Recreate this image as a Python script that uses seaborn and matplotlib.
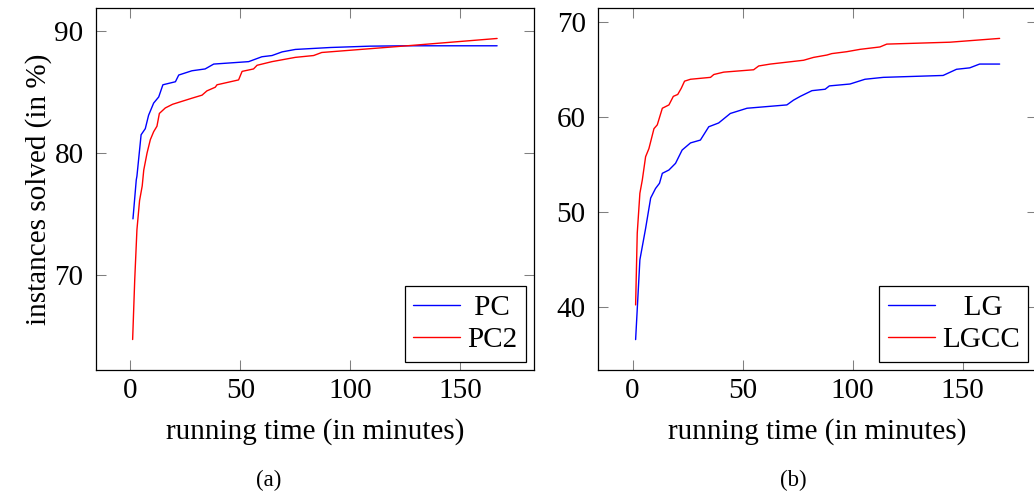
import numpy as np
import pandas as pd
import seaborn as sns
import matplotlib.pyplot as plt

# --- data -------------------------------------------------------------------
pc_time = [1.2, 2.7, 3.0, 4.9, 6.8, 8.3, 10.6, 12.9, 14.8, 20.5, 22, 28, 34, 37.9,
           53.8, 59.8, 64.4, 69, 75, 91, 109, 125.8, 166.7]
pc_solved = [74.6, 77.8, 78.1, 81.5, 82.0, 83.1, 84.1, 84.6, 85.6, 85.85, 86.4, 86.75,
             86.9, 87.3, 87.5, 87.9, 88.0, 88.3, 88.5, 88.66, 88.77, 88.8, 88.8]

pc2_time = [1.05, 2.0, 3.0, 4.2, 5.4, 6.1, 7.6, 9.1, 10.6, 12.1, 13.2, 15.9, 19.2, 28,
            32.6, 34.8, 38.6, 39.4, 49.2, 50.8, 56, 57.6, 64.4, 75, 83.3, 87, 125.8, 166.7]
pc2_solved = [64.7, 69.6, 73.7, 76.1, 77.3, 78.6, 80.0, 81.1, 81.75, 82.2, 83.25, 83.7,
              84.0, 84.5, 84.75, 85.1, 85.4, 85.6, 86.0, 86.7, 86.9, 87.2, 87.5, 87.85,
              88.0, 88.25, 88.8, 89.4]

lg_time = [1.36, 3.3, 5.9, 8.2, 10.4, 12.2, 13.5, 16.5, 19.5, 22.5, 26.3, 30.8, 34.6,
           39.1, 44.4, 52, 70.1, 73.1, 76.2, 81.5, 87.5, 89.4, 98.8, 105.6, 113.9,
           141.1, 147.2, 153.2, 157.7, 166.8]
lg_solved = [36.6, 45.0, 48.3, 51.5, 52.5, 53.05, 54.1, 54.45, 55.15, 56.55, 57.3, 57.6,
             59.0, 59.4, 60.4, 60.95, 61.3, 61.8, 62.2, 62.8, 62.95, 63.3, 63.5, 64.0,
             64.2, 64.4, 65.05, 65.2, 65.6, 65.6]

lgcc_time = [1.36, 2.1, 3.3, 4.4, 5.9, 7.4, 9.7, 11.2, 13.5, 16.5, 18.5, 20.5, 22.1,
             23.6, 26.3, 35.4, 36.9, 41.4, 55, 57.3, 62.6, 77.7, 82.2, 88.3, 90.5,
             97.3, 103.4, 112.4, 115.5, 144.2, 166.8]
lgcc_solved = [40.25, 47.8, 52.0, 53.4, 55.85, 56.7, 58.8, 59.2, 60.95, 61.3, 62.2, 62.4,
               63.05, 63.8, 64.0, 64.2, 64.5, 64.75, 65.0, 65.4, 65.6, 66.0, 66.3,
               66.55, 66.7, 66.9, 67.15, 67.4, 67.7, 67.9, 68.3]

left_series = ['PC', 'PC2']
right_series = ['LG', 'LGCC']
left_legend = [' PC', 'PC2']
right_legend = ['   LG', 'LGCC']
left_yticks = [70, 80, 90]
right_yticks = [40, 50, 60, 70]
xticks = [0, 50, 100, 150]
captions = ['(a)', '(b)']

# ----------------------------------------------------------------------------
sns.set_theme(style='ticks')
plt.rcParams['font.family'] = ['Liberation Serif', 'DejaVu Serif']
plt.rcParams['text.color'] = 'black'
plt.rcParams['axes.labelcolor'] = 'black'


def long_df(names, times, values):
    parts = []
    for n, t, v in zip(names, times, values):
        parts.append(pd.DataFrame({'time': t, 'solved': v, 'method': n}))
    return pd.concat(parts, ignore_index=True)


df_left = long_df(left_series, [pc_time, pc2_time], [pc_solved, pc2_solved])
df_right = long_df(right_series, [lg_time, lgcc_time], [lg_solved, lgcc_solved])

fig = plt.figure(figsize=(10.34, 4.98), dpi=100)
W, H = 1034, 498
ax1 = fig.add_axes([96 / W, 128 / H, 438.3 / W, 362 / H])
ax2 = fig.add_axes([598.3 / W, 128 / H, 438.3 / W, 362 / H])

fs = 21
panels = [
    (ax1, df_left, left_series, left_legend, left_yticks, (62.2, 91.9)),
    (ax2, df_right, right_series, right_legend, right_yticks, (33.4, 71.5)),
]
for ax, df, names, leg_labels, yt, ylim in panels:
    sns.lineplot(data=df, x='time', y='solved', hue='method', hue_order=names,
                 palette={names[0]: 'blue', names[1]: 'red'}, estimator=None,
                 sort=False, linewidth=1.0, ax=ax)
    ax.set_xlim(-15.6, 183.6)
    ax.set_ylim(*ylim)
    ax.set_xticks(xticks)
    ax.set_yticks(yt)
    ax.tick_params(direction='in', length=7.2, width=0.75, color='#808080',
                   top=True, right=True, labelsize=fs, labelcolor='black')
    ax.tick_params(axis='x', pad=6)
    ax.tick_params(axis='y', pad=9)
    for s in ax.spines.values():
        s.set_color('black')
        s.set_linewidth(0.9)
    ax.set_xlabel('running time (in minutes)', fontsize=fs, labelpad=10)
    ax.set_ylabel('')
    handles, _ = ax.get_legend_handles_labels()
    leg = ax.legend(handles, leg_labels, loc='lower right', bbox_to_anchor=(1, 0),
                    bbox_transform=ax.transAxes, fontsize=fs, frameon=True,
                    fancybox=False, framealpha=1, edgecolor='black',
                    borderaxespad=0.28, borderpad=0.3, labelspacing=0.2,
                    handlelength=1.6, handletextpad=0.25)
    leg.get_frame().set_linewidth(0.9)

ax1.set_ylabel('instances solved (in %)', fontsize=fs, labelpad=2)

fig.text(269 / W, 1 - 480 / H, captions[0], ha='center', va='center', fontsize=16.5)
fig.text(793 / W, 1 - 480 / H, captions[1], ha='center', va='center', fontsize=16.5)

fig.savefig('out.png', dpi=100)
